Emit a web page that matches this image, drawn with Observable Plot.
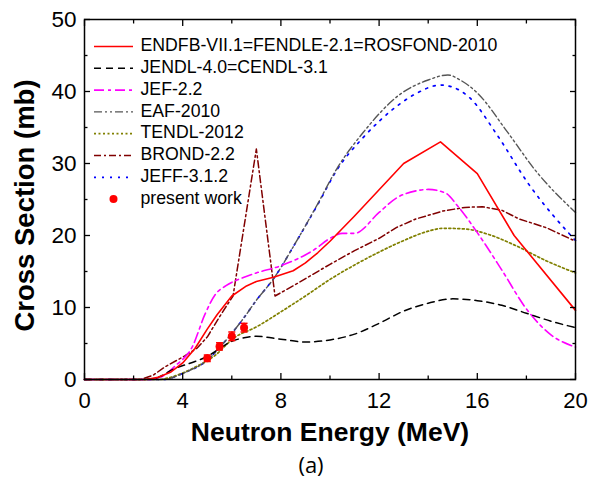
<!DOCTYPE html>
<html><head><meta charset="utf-8">
<script src="https://cdn.jsdelivr.net/npm/d3@7"></script>
<script src="https://cdn.jsdelivr.net/npm/@observablehq/plot@0.6"></script>
<style>body{margin:0;background:#fff;}</style>
</head><body><div id="chart"></div>
<script>
// ---- data ----
const endfE = [0, 2.5, 3.0, 3.5, 4.0, 4.5, 5.0, 5.4, 6.0, 6.6, 7.0, 7.7, 8.5, 9.0, 9.5, 10, 11, 13, 14.5, 16, 17.5, 20];
const endfS = [0, 0, 0.3, 1.0, 2.3, 4.3, 7.0, 9.0, 11.6, 13.0, 13.6, 14.2, 15.1, 16.2, 17.6, 19.2, 22.7, 30.0, 33.0, 28.6, 20.0, 9.6];

const jendlE = [0, 2.5, 3.0, 3.6, 4.5, 5.0, 5.5, 6.0, 6.5, 7.0, 8.0, 9.0, 10, 11, 12, 13, 14, 15, 16, 17, 18, 19, 20];
const jendlS = [0, 0, 0.3, 1.4, 2.5, 3.2, 4.3, 5.3, 5.8, 6.0, 5.6, 5.2, 5.5, 6.3, 7.8, 9.5, 10.6, 11.2, 10.95, 10.3, 9.2, 8.1, 7.2];

const jefE = [0, 2.7, 3.1, 3.7, 4.4, 4.9, 5.35, 5.75, 6.5, 7.0, 8.0, 9.3, 10.1, 10.5, 11.0, 12.0, 12.7, 13.5, 14.0, 14.7, 15.2, 16, 17, 18, 19, 20];
const jefS = [0, 0, 0.3, 1.9, 4.6, 9.0, 11.9, 13.0, 14.2, 14.8, 15.8, 17.9, 19.8, 20.3, 20.3, 23.2, 25.2, 26.2, 26.4, 25.9, 24.1, 20.4, 15.2, 9.8, 6.2, 4.5];

const eafE = [0, 3.2, 4.1, 4.9, 5.7, 6.5, 7.0, 7.7, 8.6, 9.5, 10.3, 11.35, 12.85, 14.0, 14.8, 15.3, 16, 17.2, 18.4, 20];
const eafS = [0, 0, 1.0, 2.4, 5.2, 8.6, 11.0, 14.0, 19.0, 24.4, 29.4, 34.3, 39.6, 41.6, 42.3, 41.6, 39.8, 34.5, 28.9, 23.2];

const tendlE = [0, 3.0, 3.6, 4.5, 5.3, 6.1, 7.0, 8.0, 9.0, 10, 11, 12, 13, 14, 14.6, 15.5, 16.5, 17.5, 18.8, 20];
const tendlS = [0, 0, 0.4, 1.7, 3.3, 5.8, 7.3, 9.4, 11.6, 13.9, 15.9, 17.7, 19.3, 20.6, 21.0, 20.9, 20.1, 18.7, 16.5, 14.8];

const brondE = [0, 2.3, 2.8, 3.3, 4.1, 4.6, 5.0, 5.5, 5.8, 6.05, 7.0, 7.76, 8.6, 10, 11, 12, 12.7, 13.5, 14.6, 15.5, 16.2, 17, 17.7, 18.8, 20];
const brondS = [0, 0, 0.6, 1.8, 3.3, 4.4, 5.9, 8.7, 10.3, 11.6, 32.0, 11.6, 13.2, 16.0, 17.9, 19.6, 21.1, 22.3, 23.4, 23.9, 24.0, 23.5, 22.3, 21.1, 19.2];

const jeffE = [0, 3.2, 4.1, 4.9, 5.7, 6.5, 7.0, 7.7, 8.6, 9.5, 10.3, 11.35, 12.7, 13.5, 14.5, 15.0, 15.7, 16.8, 18.1, 20];
const jeffS = [0, 0, 1.0, 2.4, 5.2, 8.6, 11.0, 14.0, 19.0, 24.3, 29.2, 33.6, 37.9, 39.7, 40.9, 40.6, 39.1, 34.0, 27.1, 19.3];

const expE = [5.0, 5.5, 6.0, 6.5];
const expS = [2.95, 4.6, 6.0, 7.2];
const expErr = [0.45, 0.5, 0.6, 0.6];

const legendNames = ["ENDFB-VII.1=FENDLE-2.1=ROSFOND-2010", "JENDL-4.0=CENDL-3.1", "JEF-2.2", "EAF-2010", "TENDL-2012", "BROND-2.2", "JEFF-3.1.2", "present work"];
const xTicksLabel = [0, 4, 8, 12, 16, 20];
const xTicksMinor = [2, 6, 10, 14, 18];
const yTicksLabel = [0, 10, 20, 30, 40, 50];
const yTicksMinor = [5, 15, 25, 35, 45];
const xTitle = "Neutron Energy (MeV)";
const yTitle = "Cross Section (mb)";
const panelTag = "(a)";

// ---- styles / layout ----
const W = 590, H = 478, mL = 84, mR = 15, mT = 19, mB = 99;
const X0 = 0, X1 = 20, Y0 = 0, Y1 = 50;
const px2x = p => X0 + (p - mL) / (W - mR - mL) * (X1 - X0);
const px2y = p => Y0 + ((H - mB) - p) / ((H - mB) - mT) * (Y1 - Y0);

const series = [
  {E: endfE, S: endfS, stroke: "#ff0000", dash: null, sw: 1.6, curve: "linear"},
  {E: jendlE, S: jendlS, stroke: "#000000", dash: "7,5", sw: 1.5, curve: "monotone-x"},
  {E: jefE, S: jefS, stroke: "#ff00ff", dash: "10,4,3,4", sw: 1.6, curve: "monotone-x"},
  {E: eafE, S: eafS, stroke: "#555555", dash: "8,3,2,3,2,3", sw: 1.4, curve: "monotone-x"},
  {E: tendlE, S: tendlS, stroke: "#808000", dash: "2,2.5", sw: 1.7, curve: "monotone-x"},
  {E: brondE, S: brondS, stroke: "#800000", dash: "7,3,2,3", sw: 1.5, curve: "linear"},
  {E: jeffE, S: jeffS, stroke: "#0000ff", dash: "2,6", sw: 1.7, curve: "monotone-x"}
];
series.forEach((s, i) => { s.name = legendNames[i]; s.rows = s.E.map((e, j) => ({E: e, S: s.S[j]})); });

const expRows = expE.map((e, i) => ({E: e, S: expS[i], lo: expS[i] - expErr[i], hi: expS[i] + expErr[i]}));

const capSymbol = {draw(ctx, size) { const r = Math.sqrt(size / Math.PI); ctx.moveTo(-r, 0); ctx.lineTo(r, 0); }};

const legY = i => px2y(46 + i * 21.8);
const legX1 = px2x(94), legX2 = px2x(133), legXT = px2x(140), legXM = px2x(113);

const fontMain = "'Liberation Sans', Arial, sans-serif";
const marks = [];

// curves (reverse order so ENDF is on top)
[...series].reverse().forEach(s => {
  marks.push(Plot.line(s.rows, {x: "E", y: "S", stroke: s.stroke, strokeWidth: s.sw, strokeDasharray: s.dash, curve: s.curve}));
});

// experimental points
marks.push(Plot.ruleX(expRows, {x: "E", y1: "lo", y2: "hi", stroke: "#ff0000", strokeWidth: 1.5}));
marks.push(Plot.dot(expRows, {x: "E", y: "lo", symbol: capSymbol, r: 3.5, stroke: "#ff0000", strokeWidth: 1.5, fill: "none"}));
marks.push(Plot.dot(expRows, {x: "E", y: "hi", symbol: capSymbol, r: 3.5, stroke: "#ff0000", strokeWidth: 1.5, fill: "none"}));
marks.push(Plot.dot(expRows, {x: "E", y: "S", r: 4, fill: "#ff0000", stroke: "none"}));

// legend
series.forEach((s, i) => {
  marks.push(Plot.ruleY([legY(i)], {y: d => d, x1: legX1, x2: legX2, stroke: s.stroke, strokeWidth: s.sw, strokeDasharray: s.dash}));
});
marks.push(Plot.dot([legY(7)], {x: legXM, y: d => d, r: 4, fill: "#ff0000", stroke: "none"}));
marks.push(Plot.text(legendNames, {x: legXT, y: (d, i) => px2y(46 + i * 21.8 - 1), text: d => d, textAnchor: "start", fontSize: 17.7, fill: "black"}));

// frame
marks.push(Plot.frame({stroke: "black", strokeWidth: 1.5}));

// tick marks (inward)
for (const anchor of ["bottom", "top"]) {
  marks.push(Plot.axisX(xTicksLabel, {anchor, tickSize: -6, tickFormat: () => "", label: null, strokeWidth: 1.3}));
  marks.push(Plot.axisX(xTicksMinor, {anchor, tickSize: -3.5, tickFormat: () => "", label: null, strokeWidth: 1.3}));
}
for (const anchor of ["left", "right"]) {
  marks.push(Plot.axisY(yTicksLabel, {anchor, tickSize: -6, tickFormat: () => "", label: null, strokeWidth: 1.3}));
  marks.push(Plot.axisY(yTicksMinor, {anchor, tickSize: -3.5, tickFormat: () => "", label: null, strokeWidth: 1.3}));
}
// tick labels
marks.push(Plot.axisX(xTicksLabel, {anchor: "bottom", tickSize: 0, tickPadding: 13, fontSize: 22, label: null, fill: "black"}));
marks.push(Plot.axisY(yTicksLabel, {anchor: "left", tickSize: 0, tickPadding: 8, fontSize: 22.5, label: null, fill: "black"}));

// titles
marks.push(Plot.text([xTitle], {frameAnchor: "bottom", dy: 61, lineAnchor: "bottom", text: d => d, fontSize: 26.5, fontWeight: "bold", fill: "black"}));
marks.push(Plot.text([yTitle], {frameAnchor: "left", dx: -51, dy: 6, rotate: -90, textAnchor: "middle", lineAnchor: "bottom", text: d => d, fontSize: 27.5, fontWeight: "bold", fill: "black"}));
marks.push(Plot.text([panelTag], {frameAnchor: "bottom", dx: -19, dy: 93, lineAnchor: "bottom", text: d => d, fontSize: 22, fontFamily: "'Open Sans', sans-serif", fill: "black"}));

const chart = Plot.plot({
  width: W, height: H,
  marginLeft: mL, marginRight: mR, marginTop: mT, marginBottom: mB,
  x: {domain: [X0, X1]},
  y: {domain: [Y0, Y1]},
  style: {fontFamily: fontMain, background: "white", color: "black", overflow: "visible"},
  marks
});
document.getElementById("chart").appendChild(chart);
</script>
</body></html>
